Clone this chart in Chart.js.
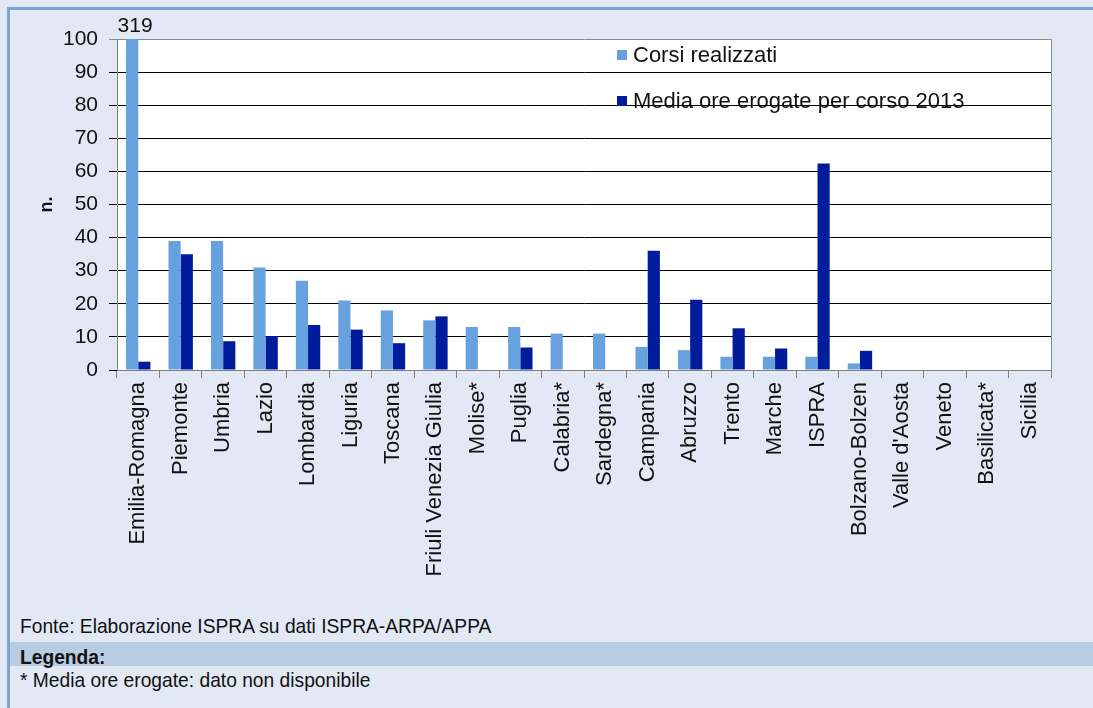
<!DOCTYPE html>
<html>
<head>
<meta charset="utf-8">
<script src="https://cdn.jsdelivr.net/npm/chart.js@4"></script>
<style>
    body { margin: 0; width: 1093px; height: 708px; background: #e2e9f5; position: relative; overflow: hidden; font-family: "Liberation Sans", Arial, sans-serif; }
    #topLine { position: absolute; left: 7px; top: 7px; right: 0; height: 3px; background: #7ba1d6; }
    #leftLine { position: absolute; left: 7px; top: 7px; bottom: 0; width: 3px; background: #7ba1d6; }
    #chartBox { position: absolute; left: 0; top: 0; }
    .note { position: absolute; left: 20px; font-family: "Liberation Sans", Arial, sans-serif; font-size: 21px; line-height: 21px; color: #111; white-space: nowrap; transform: scaleX(0.915); transform-origin: left center; }
    #legendBand { position: absolute; left: 10px; right: 0; top: 642px; height: 24px; background: #b8cce4; }
</style>
</head>
<body>
<div id="topLine"></div>
<div id="leftLine"></div>
<div id="legendBand"></div>
<div id="chartBox"><canvas id="coursesChart" width="1093" height="600"></canvas></div>
<div class="note" style="top: 615px;">Fonte: Elaborazione ISPRA su dati ISPRA-ARPA/APPA</div>
<div class="note" style="top: 646px; font-weight: bold;">Legenda:</div>
<div class="note" style="top: 669px;">* Media ore erogate: dato non disponibile</div>

<script>
// Data
const regions = ['Emilia-Romagna', 'Piemonte', 'Umbria', 'Lazio', 'Lombardia', 'Liguria', 'Toscana',
    'Friuli Venezia Giulia', 'Molise*', 'Puglia', 'Calabria*', 'Sardegna*', 'Campania', 'Abruzzo',
    'Trento', 'Marche', 'ISPRA', 'Bolzano-Bolzen', "Valle d'Aosta", 'Veneto', 'Basilicata*', 'Sicilia'];
const corsiRealizzati = [319, 39, 39, 31, 27, 21, 18, 15, 13, 13, 11, 11, 7, 6, 4, 4, 4, 2, 0, 0, 0, 0];
const mediaOre = [2.5, 35, 8.7, 10.2, 13.6, 12.2, 8.1, 16.2, null, 6.8, null, null, 36, 21.2, 12.6, 6.5, 62.4, 5.8, null, null, null, null];
const seriesLabels = ['Corsi realizzati', 'Media ore erogate per corso 2013'];
const seriesColors = ['#67a2df', '#001c9c'];
const yTicks = [0, 10, 20, 30, 40, 50, 60, 70, 80, 90, 100];

const FONT = '"Liberation Sans", Arial, sans-serif';

// white plot area with grey frame
const plotBackground = {
    id: 'plotBackground',
    beforeDraw(chart) {
        const { ctx, chartArea: a } = chart;
        ctx.save();
        ctx.fillStyle = '#ffffff';
        ctx.fillRect(a.left, a.top, a.right - a.left, a.bottom - a.top);
        ctx.strokeStyle = '#8c8c8c';
        ctx.lineWidth = 1;
        ctx.beginPath();
        ctx.moveTo(a.right + 0.5, a.top);
        ctx.lineTo(a.right + 0.5, a.bottom);
        ctx.stroke();
        ctx.restore();
    }
};

// legend drawn inside the plot, plus the label of the clipped bar
const insideLegend = {
    id: 'insideLegend',
    afterDraw(chart) {
        const { ctx, chartArea: a } = chart;
        ctx.save();
        ctx.font = '22px ' + FONT;
        ctx.textBaseline = 'middle';
        chart.data.datasets.forEach((ds, i) => {
            const x = a.left + 500;
            const y = a.top + 16 + i * 46;
            ctx.fillStyle = ds.backgroundColor;
            ctx.fillRect(x, y - 5, 10, 10);
            ctx.fillStyle = '#111';
            ctx.fillText(ds.label, x + 16, y + 1);
        });

        // value label for bars that go over the axis max
        const meta = chart.getDatasetMeta(0);
        const max = chart.scales.y.max;
        ctx.font = '21px ' + FONT;
        ctx.textAlign = 'center';
        ctx.textBaseline = 'alphabetic';
        corsiRealizzati.forEach((v, i) => {
            if (v > max) {
                const bar = meta.data[i];
                ctx.fillText(String(v), bar.x + 3, a.top - 7);
            }
        });
        ctx.restore();
    }
};

new Chart(document.getElementById('coursesChart'), {
    type: 'bar',
    data: {
        labels: regions,
        datasets: [
            { label: seriesLabels[0], data: corsiRealizzati, backgroundColor: seriesColors[0] },
            { label: seriesLabels[1], data: mediaOre, backgroundColor: seriesColors[1] }
        ]
    },
    options: {
        responsive: false,
        animation: false,
        devicePixelRatio: 1,
        categoryPercentage: 0.575,
        barPercentage: 1.0,
        layout: { padding: { left: 0, top: 39, right: 42, bottom: 0 } },
        plugins: {
            legend: { display: false },
            tooltip: { enabled: false }
        },
        scales: {
            x: {
                afterFit(scale) { scale.height = 230; },
                border: { display: true, color: '#808080', width: 1 },
                grid: { drawOnChartArea: false, drawTicks: true, tickLength: 8, color: '#808080' },
                ticks: {
                    autoSkip: false,
                    minRotation: 90,
                    maxRotation: 90,
                    padding: 4,
                    color: '#111',
                    font: { family: FONT, size: 22 }
                }
            },
            y: {
                min: 0,
                max: 100,
                afterFit(scale) { scale.width = 117; },
                afterBuildTicks(scale) { scale.ticks = yTicks.map(v => ({ value: v })); },
                border: { display: true, color: '#808080', width: 1 },
                grid: {
                    color: ctx => (ctx.tick && ctx.tick.value === 100 ? '#8c8c8c' : '#000000'),
                    tickLength: 8,
                    lineWidth: 1
                },
                ticks: {
                    padding: 11,
                    color: '#111',
                    font: { family: FONT, size: 21 }
                },
                title: {
                    display: true,
                    text: 'n.',
                    color: '#111',
                    font: { family: FONT, size: 18, weight: 'bold' },
                    padding: { top: 36, bottom: 0 }
                }
            }
        }
    },
    plugins: [plotBackground, insideLegend]
});
</script>
</body>
</html>
